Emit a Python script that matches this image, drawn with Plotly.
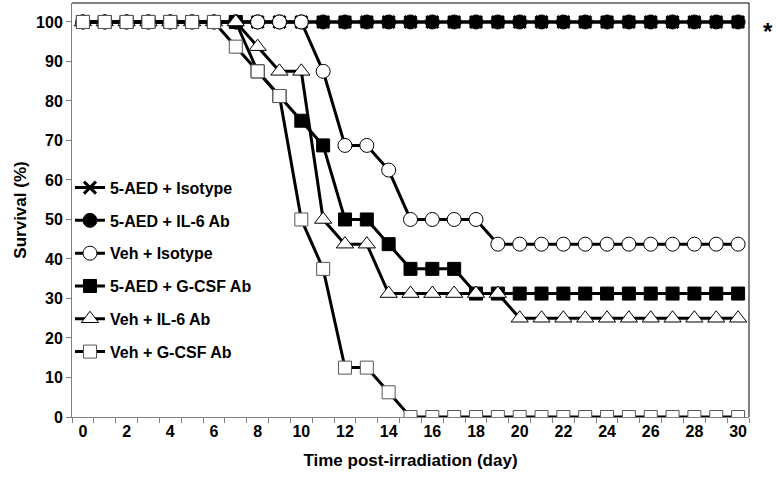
# survival curves after irradiation

import plotly.graph_objects as go

days = list(range(31))

# survival (%) per group
aed_isotype = [100, 100, 100, 100, 100, 100, 100, 100, 100, 100, 100,
               100, 100, 100, 100, 100, 100, 100, 100, 100, 100,
               100, 100, 100, 100, 100, 100, 100, 100, 100, 100]
aed_il6 = [100, 100, 100, 100, 100, 100, 100, 100, 100, 100, 100,
           100, 100, 100, 100, 100, 100, 100, 100, 100, 100,
           100, 100, 100, 100, 100, 100, 100, 100, 100, 100]
veh_isotype = [100, 100, 100, 100, 100, 100, 100, 100, 100, 100, 100,
               87.5, 68.75, 68.75, 62.5, 50, 50, 50, 50, 43.75, 43.75,
               43.75, 43.75, 43.75, 43.75, 43.75, 43.75, 43.75, 43.75, 43.75, 43.75]
aed_gcsf = [100, 100, 100, 100, 100, 100, 100, 100, 87.5, 81.25, 75,
            68.75, 50, 50, 43.75, 37.5, 37.5, 37.5, 31.25, 31.25, 31.25,
            31.25, 31.25, 31.25, 31.25, 31.25, 31.25, 31.25, 31.25, 31.25, 31.25]
veh_il6 = [100, 100, 100, 100, 100, 100, 100, 100, 93.75, 87.5, 87.5,
           50, 43.75, 43.75, 31.25, 31.25, 31.25, 31.25, 31.25, 31.25, 25,
           25, 25, 25, 25, 25, 25, 25, 25, 25, 25]
veh_gcsf = [100, 100, 100, 100, 100, 100, 100, 93.75, 87.5, 81.25, 50,
            37.5, 12.5, 12.5, 6.25, 0, 0, 0, 0, 0, 0,
            0, 0, 0, 0, 0, 0, 0, 0, 0, 0]

x_ticks = list(range(0, 31, 2))
y_ticks = list(range(0, 101, 10))

groups = [
    ('5-AED + Isotype', aed_isotype, 'x-thin', 12, 'black', 'black', 3),
    ('5-AED + IL-6 Ab', aed_il6, 'circle', 14, 'black', 'black', 1),
    ('Veh + Isotype', veh_isotype, 'circle', 14, 'white', 'black', 1),
    ('5-AED + G-CSF Ab', aed_gcsf, 'square', 13, 'black', 'black', 1),
    ('Veh + IL-6 Ab', veh_il6, 'triangle-up', 15, 'white', 'black', 1),
    ('Veh + G-CSF Ab', veh_gcsf, 'square', 13, 'white', '#555555', 1),
]

fig = go.Figure()
for name, vals, sym, size, fill, edge, ew in groups:
    fig.add_trace(go.Scatter(
        x=days, y=vals, name=name, mode='lines+markers',
        legendgroup=name,
        line=dict(color='black', width=3),
        marker=dict(symbol=sym, size=size, color=fill,
                    line=dict(color=edge, width=ew)),
    ))

font = dict(family='Liberation Sans, Arial, sans-serif', size=16,
            color='black', weight='bold')

fig.update_layout(
    width=776, height=487,
    margin=dict(l=72, r=27, t=3, b=70, autoexpand=False),
    plot_bgcolor='white', paper_bgcolor='white',
    font=font,
    showlegend=True,
    legend=dict(x=-0.003, y=0.595, xanchor='left', yanchor='top',
                bgcolor='rgba(0,0,0,0)', tracegroupgap=9, itemwidth=30,
                font=dict(size=16, weight='bold')),
    annotations=[dict(text='*', xref='paper', yref='y', x=1.028, y=97.5,
                      xanchor='center', yanchor='middle', showarrow=False,
                      font=dict(size=24, weight='bold'))],
    shapes=[
        dict(type='line', xref='paper', yref='paper', x0=0, x1=1, y0=1, y1=1,
             line=dict(color='black', width=1)),
        dict(type='line', xref='paper', yref='paper', x0=1, x1=1, y0=0, y1=1,
             line=dict(color='black', width=1)),
    ],
)

fig.update_xaxes(
    range=[-0.5, 30.5], tickvals=x_ticks, ticks='', automargin=False,
    minor=dict(tick0=-0.5, dtick=1, ticks='outside', ticklen=5,
               tickcolor='#808080', tickwidth=1),
    showline=True, linecolor='#808080', linewidth=1,
    showgrid=False, zeroline=False,
    title=dict(text='Time post-irradiation (day)', standoff=14,
               font=dict(size=17, weight='bold')),
)
fig.update_yaxes(
    range=[0, 104.8], tickvals=y_ticks, ticks='outside', ticklen=5,
    automargin=False,
    tickcolor='#808080', showline=True, linecolor='#808080', linewidth=1,
    showgrid=False, zeroline=False,
    title=dict(text='Survival (%)', standoff=5,
               font=dict(size=17, weight='bold')),
)

# page body margin would shift the chart by 8px
fig.write_html('out.html', config={'displayModeBar': False},
               post_script="document.body.style.margin='0';")
